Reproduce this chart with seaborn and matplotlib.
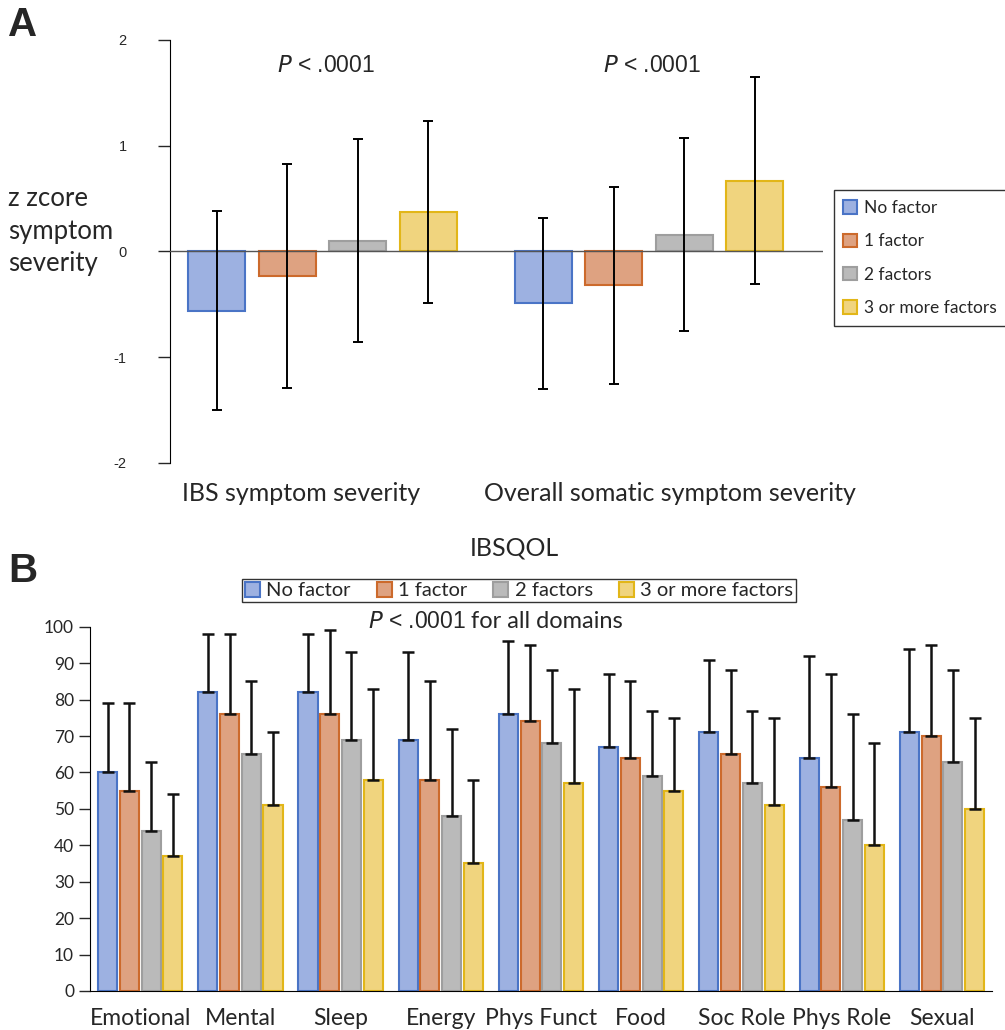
import numpy as np
import pandas as pd
import seaborn as sns
import matplotlib.pyplot as plt

# groups and colours
groups = ['No factor', '1 factor', '2 factors', '3 or more factors']
fills = ['#9db1e1', '#dea281', '#bababa', '#f0d47e']
edges = ['#4a74c6', '#cc6a2c', '#9e9e9e', '#e2b618']

# panel A: z score of symptom severity
a_measures = ['IBS symptom severity', 'Overall somatic symptom severity']
a_mean_ibs = [-0.56, -0.23, 0.10, 0.37]
a_sd_ibs = [0.94, 1.06, 0.96, 0.86]
a_mean_som = [-0.49, -0.32, 0.16, 0.67]
a_sd_som = [0.81, 0.93, 0.91, 0.98]

# panel B: IBSQOL domains
b_domains = ['Emotional', 'Mental', 'Sleep', 'Energy', 'Phys Funct',
             'Food', 'Soc Role', 'Phys Role', 'Sexual']
b_no_factor = [60, 82, 82, 69, 76, 67, 71, 64, 71]
b_1_factor = [55, 76, 76, 58, 74, 64, 65, 56, 70]
b_2_factors = [44, 65, 69, 48, 68, 59, 57, 47, 63]
b_3_factors = [37, 51, 58, 35, 57, 55, 51, 40, 50]
b_sd_no = [19, 16, 16, 24, 20, 20, 20, 28, 23]
b_sd_1 = [24, 22, 23, 27, 21, 21, 23, 31, 25]
b_sd_2 = [19, 20, 24, 24, 20, 18, 20, 29, 25]
b_sd_3 = [17, 20, 25, 23, 26, 20, 24, 28, 25]

sns.set_style('white')
plt.rcParams['font.family'] = ['Lato', 'DejaVu Sans']

fig = plt.figure(figsize=(10.05, 10.3), dpi=100)


def draw_bars(ax, df, order, width, gap):
    sns.barplot(data=df, x='cat', y='mean', hue='group', order=order,
                hue_order=groups, palette=fills, width=width, gap=gap,
                errorbar=None, ax=ax, legend=False, saturation=1)
    # patches come hue by hue, category by category
    bars = list(ax.patches)[:len(df)]
    for i in range(len(groups)):
        for j in range(len(order)):
            bars[i * len(order) + j].set_edgecolor(edges[i])
            bars[i * len(order) + j].set_linewidth(1.5)
    return bars


# ---------------- Panel A ----------------
axA = fig.add_axes([0.169, 0.5505, 0.650, 0.4107])
dfA = pd.DataFrame({
    'cat': np.repeat(a_measures, 4),
    'group': groups * 2,
    'mean': a_mean_ibs + a_mean_som,
    'sd': a_sd_ibs + a_sd_som,
})
barsA = draw_bars(axA, dfA, a_measures, 0.864, 0.19)
for i, g in enumerate(groups):
    for j, m in enumerate(a_measures):
        b = barsA[i * 2 + j]
        row = dfA[(dfA['cat'] == m) & (dfA['group'] == g)].iloc[0]
        axA.errorbar(b.get_x() + b.get_width() / 2, row['mean'], yerr=row['sd'],
                     fmt='none', ecolor='black', elinewidth=1.4, capsize=3.5,
                     capthick=1.4, zorder=5)
axA.axhline(0, color='#555555', lw=1, zorder=4)
axA.set_ylim(-2, 2)
axA.set_xlim(-0.467, 1.533)
axA.set_xticks([-0.065, 1.065], a_measures)
axA.set_yticks([-2, -1, 0, 1, 2])
axA.set_yticklabels(['-2', '-1', '0', '1', '2'], family='Liberation Sans', fontsize=10.5)
axA.tick_params(axis='y', direction='out', length=9, width=1, left=True, pad=22)
axA.tick_params(axis='x', length=0, labelsize=18, pad=14)
for s in ['top', 'right', 'bottom']:
    axA.spines[s].set_visible(False)
axA.spines['left'].set_color('black')
axA.set_xlabel('')
axA.set_ylabel('')
for j in range(2):
    axA.text(j + 0.01, 1.76, r'$\it{P}$ < .0001', ha='center', va='center',
             fontsize=16.5, family='Liberation Sans')
handlesA = [plt.Rectangle((0, 0), 1, 1, fc=fills[i], ec=edges[i], lw=1.5) for i in range(4)]
legA = fig.legend(handlesA, groups, loc='upper left', bbox_to_anchor=(0.821, 0.8235),
                  fontsize=12.5, frameon=True, fancybox=False, edgecolor='black',
                  handlelength=0.8, handleheight=0.8, handletextpad=0.4,
                  labelspacing=1.0, borderpad=0.55)
legA.get_frame().set_linewidth(1)
fig.text(0.008, 0.7757, 'z zcore\nsymptom\nseverity', ha='left', va='center',
         fontsize=18.5, linespacing=1.38)
fig.text(0.008, 0.976, 'A', fontsize=29, fontweight='bold', family='Liberation Sans',
         va='center')

# ---------------- Panel B ----------------
axB = fig.add_axes([0.0896, 0.0379, 0.8975, 0.3536])
dfB = pd.DataFrame({
    'cat': b_domains * 4,
    'group': np.repeat(groups, len(b_domains)),
    'mean': b_no_factor + b_1_factor + b_2_factors + b_3_factors,
    'sd': b_sd_no + b_sd_1 + b_sd_2 + b_sd_3,
})
barsB = draw_bars(axB, dfB, b_domains, 0.868, 0.124)
for i, g in enumerate(groups):
    for j, d in enumerate(b_domains):
        b = barsB[i * len(b_domains) + j]
        row = dfB[(dfB['cat'] == d) & (dfB['group'] == g)].iloc[0]
        axB.errorbar(b.get_x() + b.get_width() / 2, row['mean'],
                     yerr=[[0], [row['sd']]], fmt='none', ecolor='#111111',
                     elinewidth=1.8, capsize=4, capthick=1.8, zorder=5)
axB.set_ylim(0, 100)
axB.set_xlim(-0.5, 8.5)
axB.set_yticks(range(0, 101, 10))
axB.tick_params(axis='y', direction='out', length=8, width=1, left=True, labelsize=12.5)
axB.tick_params(axis='x', length=0, labelsize=16.5, pad=12)
for s in ['top', 'right']:
    axB.spines[s].set_visible(False)
axB.spines['left'].set_color('black')
axB.spines['bottom'].set_color('black')
axB.set_xlabel('')
axB.set_ylabel('')
axB.text(3.25, 101.5, r'$\it{P}$ < .0001', ha='right', va='center', fontsize=16.5,
         family='Liberation Sans', clip_on=False)
axB.text(3.30, 101.5, 'for all domains', ha='left', va='center', fontsize=17,
         clip_on=False)
handlesB = [plt.Rectangle((0, 0), 1, 1, fc=fills[i], ec=edges[i], lw=1.5) for i in range(4)]
legB = fig.legend(handlesB, groups, loc='center', bbox_to_anchor=(0.5164, 0.4265),
                  ncol=4, fontsize=14.5, frameon=True, fancybox=False, edgecolor='black',
                  handlelength=0.75, handleheight=0.75, handletextpad=0.3,
                  columnspacing=1.3, borderpad=0.15)
legB.get_frame().set_linewidth(1)
fig.text(0.512, 0.468, 'IBSQOL', ha='center', va='center', fontsize=18)
fig.text(0.008, 0.446, 'B', fontsize=29, fontweight='bold', family='Liberation Sans',
         va='center')

fig.savefig('out.png', dpi=100)
